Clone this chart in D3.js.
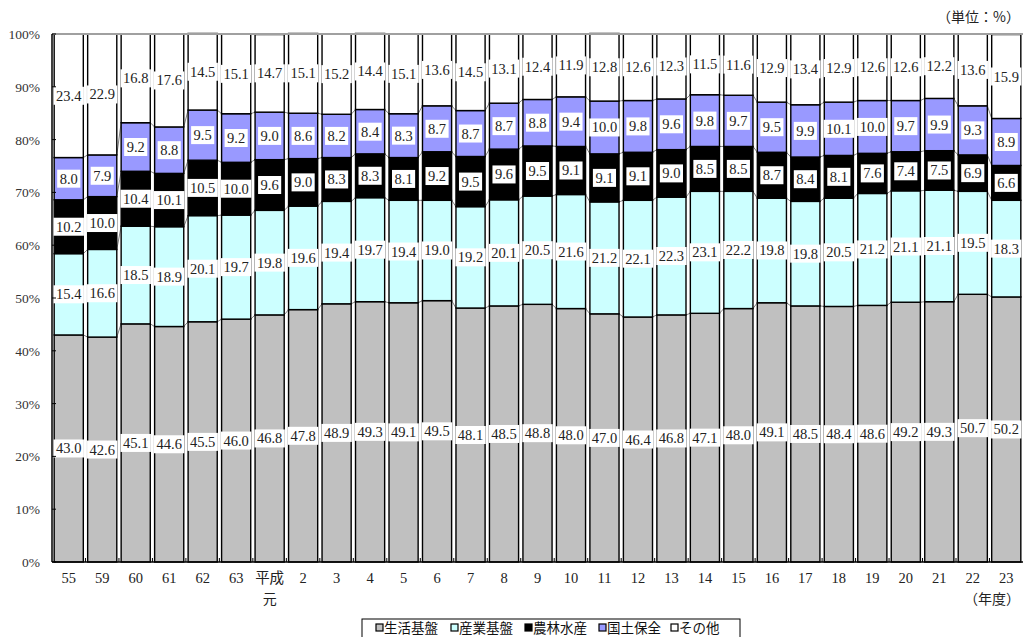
<!DOCTYPE html>
<html>
<head>
<meta charset="utf-8">
<script src="https://cdn.jsdelivr.net/npm/d3@7"></script>
<style>
  body { margin: 0; background: #fff; }
  svg { display: block; }
</style>
</head>
<body>
<svg id="chart" width="1023" height="637"></svg>
<script>
const years = ["55", "59", "60", "61", "62", "63", "平成元", "2", "3", "4", "5", "6", "7", "8", "9", "10",
  "11", "12", "13", "14", "15", "16", "17", "18", "19", "20", "21", "22", "23"];

const seikatsu = [43.0, 42.6, 45.1, 44.6, 45.5, 46.0, 46.8, 47.8, 48.9, 49.3, 49.1, 49.5, 48.1, 48.5, 48.8,
  48.0, 47.0, 46.4, 46.8, 47.1, 48.0, 49.1, 48.5, 48.4, 48.6, 49.2, 49.3, 50.7, 50.2];
const sangyo = [15.4, 16.6, 18.5, 18.9, 20.1, 19.7, 19.8, 19.6, 19.4, 19.7, 19.4, 19.0, 19.2, 20.1, 20.5,
  21.6, 21.2, 22.1, 22.3, 23.1, 22.2, 19.8, 19.8, 20.5, 21.2, 21.1, 21.1, 19.5, 18.3];
const norin = [10.2, 10.0, 10.4, 10.1, 10.5, 10.0, 9.6, 9.0, 8.3, 8.3, 8.1, 9.2, 9.5, 9.6, 9.5,
  9.1, 9.1, 9.1, 9.0, 8.5, 8.5, 8.7, 8.4, 8.1, 7.6, 7.4, 7.5, 6.9, 6.6];
const kokudo = [8.0, 7.9, 9.2, 8.8, 9.5, 9.2, 9.0, 8.6, 8.2, 8.4, 8.3, 8.7, 8.7, 8.7, 8.8,
  9.4, 10.0, 9.8, 9.6, 9.8, 9.7, 9.5, 9.9, 10.1, 10.0, 9.7, 9.9, 9.3, 8.9];
const sonota = [23.4, 22.9, 16.8, 17.6, 14.5, 15.1, 14.7, 15.1, 15.2, 14.4, 15.1, 13.6, 14.5, 13.1, 12.4,
  11.9, 12.8, 12.6, 12.3, 11.5, 11.6, 12.9, 13.4, 12.9, 12.6, 12.6, 12.2, 13.6, 15.9];

const seriesNames = ["生活基盤", "産業基盤", "農林水産", "国土保全", "その他"];
const seriesColors = ["#c0c0c0", "#ccffff", "#000000", "#9999ff", "#ffffff"];
const yTicks = [0, 10, 20, 30, 40, 50, 60, 70, 80, 90, 100];

const svg = d3.select("#chart");
const plotL = 52, plotR = 1023, plotT = 34, plotB = 562;

// table for d3.stack
const table = years.map((y, i) => ({
  year: y,
  "生活基盤": seikatsu[i], "産業基盤": sangyo[i], "農林水産": norin[i], "国土保全": kokudo[i], "その他": sonota[i]
}));
const stacked = d3.stack().keys(seriesNames)(table);

const x = d3.scaleBand().domain(years).range([plotL, plotR]).paddingInner(0.13).paddingOuter(0.065);
const y = d3.scaleLinear().domain([0, 100]).range([plotB, plotT]);
const bw = x.bandwidth();

// connecting lines between bars
stacked.slice(0, 4).forEach(s => {
  for (let i = 0; i < s.length - 1; i++) {
    svg.append("line")
      .attr("x1", x(years[i]) + bw).attr("y1", y(s[i][1]))
      .attr("x2", x(years[i + 1])).attr("y2", y(s[i + 1][1]))
      .attr("stroke", "#808080").attr("stroke-width", 1);
  }
});

// bars
stacked.forEach((s, k) => {
  svg.append("g").selectAll("rect")
    .data(s)
    .join("rect")
    .attr("x", d => x(d.data.year))
    .attr("y", d => y(d[1]))
    .attr("width", bw)
    .attr("height", d => y(d[0]) - y(d[1]))
    .attr("fill", seriesColors[k])
    .attr("stroke", "#000")
    .attr("stroke-width", 1.4);
});

// top border of plot area
svg.append("line").attr("x1", plotL).attr("x2", plotR).attr("y1", plotT).attr("y2", plotT)
  .attr("stroke", "#a0a0a0").attr("stroke-width", 2);

// value labels
stacked.forEach((s, k) => {
  s.forEach(d => {
    const cx = x(d.data.year) + bw / 2;
    const cy = y((d[0] + d[1]) / 2);
    const g = svg.append("g");
    const r = g.append("rect").attr("fill", "#fff");
    const t = g.append("text")
      .attr("x", cx).attr("y", cy + 5)
      .attr("text-anchor", "middle")
      .attr("font-family", "Liberation Serif, serif")
      .attr("font-size", 14.5)
      .attr("fill", "#222")
      .text(d3.format(".1f")(d.data[s.key]));
    const w = t.node().getComputedTextLength() + 5;
    r.attr("x", cx - w / 2).attr("y", cy - 9).attr("width", w).attr("height", 18);
  });
});

// y axis
svg.append("line").attr("x1", plotL).attr("x2", plotL).attr("y1", plotT).attr("y2", plotB)
  .attr("stroke", "#000").attr("stroke-width", 1.5);
yTicks.forEach(v => {
  svg.append("line").attr("x1", plotL).attr("x2", plotL + 4).attr("y1", y(v)).attr("y2", y(v))
    .attr("stroke", "#000");
  svg.append("text").attr("x", 40).attr("y", y(v) + 5).attr("text-anchor", "end")
    .attr("font-family", "Liberation Serif, serif").attr("font-size", 13.5).attr("fill", "#333")
    .text(v + "%");
});

// x axis
svg.append("line").attr("x1", plotL).attr("x2", plotR).attr("y1", plotB).attr("y2", plotB)
  .attr("stroke", "#000").attr("stroke-width", 1.5);
years.forEach((yr, i) => {
  const cx = x(yr) + bw / 2;
  if (i > 0) {
    svg.append("line").attr("x1", x(yr) - 2.2).attr("x2", x(yr) - 2.2).attr("y1", plotB).attr("y2", plotB - 4)
      .attr("stroke", "#000");
  }
  const t = svg.append("text").attr("x", cx).attr("y", 583).attr("text-anchor", "middle")
    .attr("font-family", "Liberation Serif, 'Noto Sans CJK JP', serif").attr("font-size", 14.5).attr("fill", "#222");
  if (yr === "平成元") {
    t.text("平成");
    svg.append("text").attr("x", cx).attr("y", 604).attr("text-anchor", "middle")
      .attr("font-family", "'Noto Sans CJK JP', sans-serif").attr("font-size", 14).attr("fill", "#222")
      .text("元");
  } else {
    t.text(yr);
  }
});

svg.append("text").attr("x", 1020).attr("y", 604).attr("text-anchor", "end")
  .attr("font-family", "'Noto Sans CJK JP', sans-serif").attr("font-size", 14).attr("fill", "#222")
  .text("（年度）");
svg.append("text").attr("x", 1020).attr("y", 22).attr("text-anchor", "end")
  .attr("font-family", "'Noto Sans CJK JP', sans-serif").attr("font-size", 14).attr("fill", "#222")
  .text("（単位：%）");

// legend
const lg = svg.append("g");
lg.append("rect").attr("x", 362).attr("y", 619).attr("width", 378).attr("height", 30)
  .attr("fill", "#fff").attr("stroke", "#000");
const legX = [376, 451, 525, 599, 671];
seriesNames.forEach((n, k) => {
  lg.append("rect").attr("x", legX[k]).attr("y", 624).attr("width", 7).attr("height", 7)
    .attr("fill", seriesColors[k]).attr("stroke", "#000").attr("stroke-width", 1.2);
  lg.append("text").attr("x", legX[k] + 8).attr("y", 633)
    .attr("font-family", "'Noto Sans CJK JP', sans-serif").attr("font-size", 13.5).attr("fill", "#111")
    .text(n);
});
</script>
</body>
</html>
